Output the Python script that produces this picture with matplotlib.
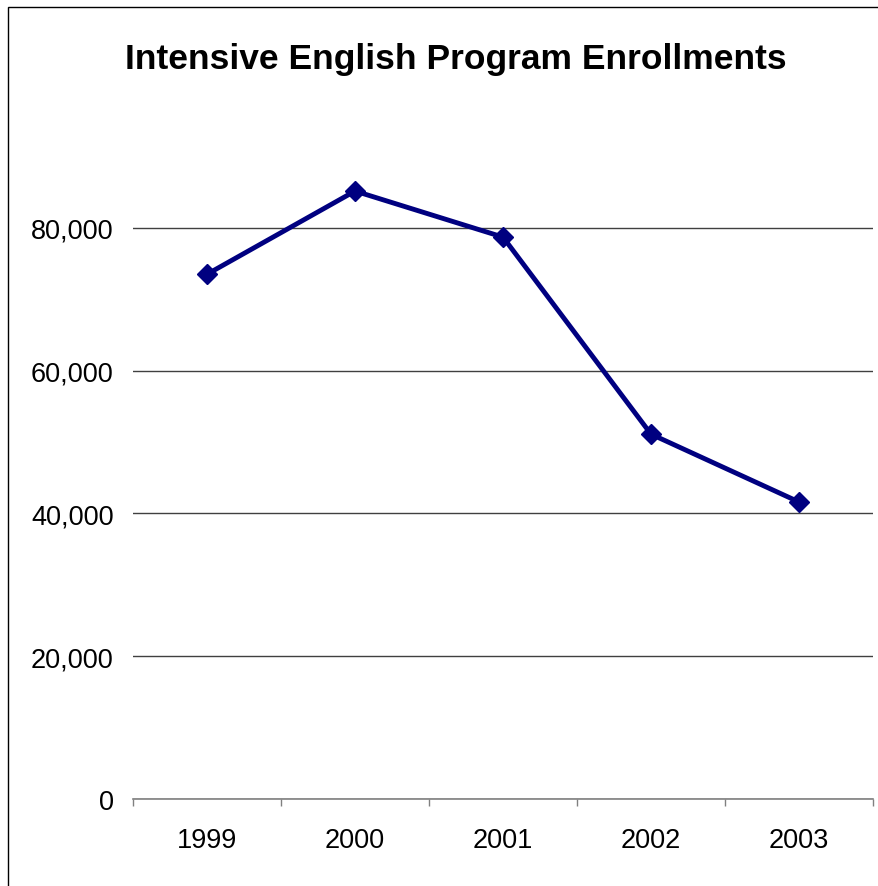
import matplotlib
matplotlib.use("Agg")
from matplotlib import pyplot as plt
from matplotlib.patches import Rectangle
from matplotlib.ticker import FuncFormatter
import numpy as np

years = ['1999', '2000', '2001', '2002', '2003']
enrollments = [73500, 85150, 78700, 51100, 41600]
y_ticks = [0, 20000, 40000, 60000, 80000]

plt.rcParams['font.family'] = ['Liberation Sans', 'DejaVu Sans']

fig = plt.figure(figsize=(8.79, 8.87), dpi=100)
ax = fig.add_axes([0.1513, 0.0981, 0.8419, 0.7244])

x = np.arange(len(years))
ax.plot(x, enrollments, color='#000080', linewidth=3.5, marker='D', markersize=10.5,
        zorder=3)

ax.set_xlim(-0.5, len(years) - 0.5)
ax.set_ylim(0, 90000)

# tick marks at category boundaries, labels at centres
ax.set_xticks(np.arange(len(years) + 1) - 0.5)
ax.set_xticklabels([])
ax.set_xticks(x, minor=True)
ax.set_xticklabels(years, minor=True)
ax.tick_params(axis='x', which='major', direction='out', length=5, width=1,
               color='#808080')
ax.tick_params(axis='x', which='minor', length=0, pad=20, labelsize=19.5)

ax.set_yticks(y_ticks)
ax.yaxis.set_major_formatter(FuncFormatter(lambda v, p: f'{int(v):,}'))
ax.tick_params(axis='y', length=0, pad=14, labelsize=19.5)

ax.grid(axis='y', color='#404040', linewidth=1)
for s in ['left', 'right', 'top']:
    ax.spines[s].set_visible(False)
ax.spines['bottom'].set_color('#808080')
ax.spines['bottom'].set_linewidth(1.2)

fig.text(0.519, 0.933, 'Intensive English Program Enrollments', ha='center',
         va='center', fontsize=25.5, fontweight='bold')

fig.patches.append(Rectangle((8 / 879, -0.05), 1.2, 1 - 8 / 887 + 0.05,
                             transform=fig.transFigure, fill=False,
                             edgecolor='black', linewidth=1, clip_on=False))

fig.savefig('out.png', dpi=100)
